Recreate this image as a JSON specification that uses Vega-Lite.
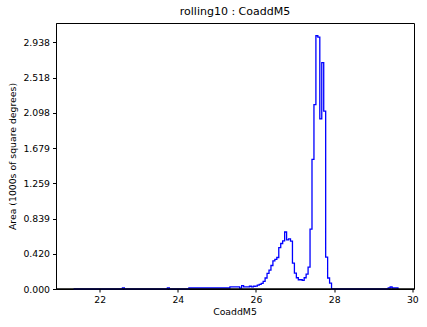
{
  "$schema": "https://vega.github.io/schema/vega-lite/v6.json",
  "autosize": {"type": "none"},
  "width": 358,
  "height": 266,
  "padding": {"left": 56, "top": 23, "right": 13, "bottom": 38},
  "background": "white",
  "view": {"stroke": "black", "strokeWidth": 1},
  "title": {"text": "rolling10 : CoaddM5", "font": "DejaVu Sans", "fontSize": 11, "fontWeight": "normal", "color": "black", "offset": 6, "anchor": "middle"},
  "data": {"values": [
    {"x": 21.32, "a": 0}, {"x": 21.37, "a": 0}, {"x": 21.42, "a": 0}, {"x": 21.47, "a": 0}, {"x": 21.52, "a": 0},
    {"x": 21.57, "a": 0}, {"x": 21.62, "a": 0}, {"x": 21.67, "a": 0}, {"x": 21.72, "a": 0}, {"x": 21.77, "a": 0},
    {"x": 21.82, "a": 0}, {"x": 21.87, "a": 0}, {"x": 21.92, "a": 0}, {"x": 21.97, "a": 0}, {"x": 22.02, "a": 0},
    {"x": 22.07, "a": 0}, {"x": 22.12, "a": 0}, {"x": 22.17, "a": 0}, {"x": 22.22, "a": 0}, {"x": 22.27, "a": 0},
    {"x": 22.32, "a": 0}, {"x": 22.37, "a": 0}, {"x": 22.42, "a": 0}, {"x": 22.47, "a": 0}, {"x": 22.52, "a": 0},
    {"x": 22.57, "a": 0.012},
    {"x": 22.62, "a": 0}, {"x": 22.67, "a": 0}, {"x": 22.72, "a": 0}, {"x": 22.77, "a": 0}, {"x": 22.82, "a": 0},
    {"x": 22.87, "a": 0}, {"x": 22.92, "a": 0}, {"x": 22.97, "a": 0}, {"x": 23.02, "a": 0}, {"x": 23.07, "a": 0},
    {"x": 23.12, "a": 0}, {"x": 23.17, "a": 0}, {"x": 23.22, "a": 0}, {"x": 23.27, "a": 0}, {"x": 23.32, "a": 0},
    {"x": 23.37, "a": 0}, {"x": 23.42, "a": 0}, {"x": 23.47, "a": 0}, {"x": 23.52, "a": 0}, {"x": 23.57, "a": 0},
    {"x": 23.62, "a": 0}, {"x": 23.67, "a": 0},
    {"x": 23.72, "a": 0.012},
    {"x": 23.77, "a": 0}, {"x": 23.82, "a": 0}, {"x": 23.87, "a": 0}, {"x": 23.92, "a": 0}, {"x": 23.97, "a": 0},
    {"x": 24.02, "a": 0}, {"x": 24.07, "a": 0}, {"x": 24.12, "a": 0}, {"x": 24.17, "a": 0}, {"x": 24.22, "a": 0},
    {"x": 24.27, "a": 0.012}, {"x": 24.32, "a": 0.012}, {"x": 24.37, "a": 0.012}, {"x": 24.42, "a": 0.012}, {"x": 24.47, "a": 0.012},
    {"x": 24.52, "a": 0.012}, {"x": 24.57, "a": 0.012}, {"x": 24.62, "a": 0.012}, {"x": 24.67, "a": 0.012}, {"x": 24.72, "a": 0.012},
    {"x": 24.77, "a": 0.012}, {"x": 24.82, "a": 0.012}, {"x": 24.87, "a": 0.012}, {"x": 24.92, "a": 0.012}, {"x": 24.97, "a": 0.012},
    {"x": 25.02, "a": 0.012}, {"x": 25.07, "a": 0.012}, {"x": 25.12, "a": 0.012}, {"x": 25.17, "a": 0.012}, {"x": 25.22, "a": 0.012},
    {"x": 25.27, "a": 0.012},
    {"x": 25.32, "a": 0.025}, {"x": 25.37, "a": 0.025}, {"x": 25.42, "a": 0.025}, {"x": 25.47, "a": 0.025}, {"x": 25.52, "a": 0.025},
    {"x": 25.57, "a": 0.010}, {"x": 25.62, "a": 0.040}, {"x": 25.67, "a": 0.025}, {"x": 25.72, "a": 0.025}, {"x": 25.77, "a": 0.025},
    {"x": 25.82, "a": 0.033}, {"x": 25.87, "a": 0.025}, {"x": 25.92, "a": 0.033}, {"x": 25.97, "a": 0.035}, {"x": 26.02, "a": 0.045},
    {"x": 26.07, "a": 0.055}, {"x": 26.12, "a": 0.067}, {"x": 26.17, "a": 0.090}, {"x": 26.22, "a": 0.131}, {"x": 26.27, "a": 0.185},
    {"x": 26.32, "a": 0.226}, {"x": 26.37, "a": 0.280}, {"x": 26.42, "a": 0.336}, {"x": 26.47, "a": 0.352}, {"x": 26.52, "a": 0.375},
    {"x": 26.57, "a": 0.494}, {"x": 26.62, "a": 0.542}, {"x": 26.67, "a": 0.574}, {"x": 26.72, "a": 0.679}, {"x": 26.77, "a": 0.586},
    {"x": 26.82, "a": 0.597}, {"x": 26.87, "a": 0.570}, {"x": 26.92, "a": 0.309}, {"x": 26.97, "a": 0.190}, {"x": 27.02, "a": 0.134},
    {"x": 27.07, "a": 0.110}, {"x": 27.12, "a": 0.110}, {"x": 27.17, "a": 0.102}, {"x": 27.22, "a": 0.134}, {"x": 27.27, "a": 0.178},
    {"x": 27.32, "a": 0.261}, {"x": 27.37, "a": 0.713}, {"x": 27.42, "a": 1.544}, {"x": 27.47, "a": 2.197}, {"x": 27.52, "a": 3.017},
    {"x": 27.57, "a": 3.000}, {"x": 27.62, "a": 2.026}, {"x": 27.67, "a": 2.696}, {"x": 27.72, "a": 2.118}, {"x": 27.77, "a": 0.380},
    {"x": 27.82, "a": 0.131}, {"x": 27.87, "a": 0.071},
    {"x": 27.92, "a": 0}, {"x": 27.97, "a": 0}, {"x": 28.02, "a": 0}, {"x": 28.07, "a": 0}, {"x": 28.12, "a": 0},
    {"x": 28.17, "a": 0}, {"x": 28.22, "a": 0}, {"x": 28.27, "a": 0}, {"x": 28.32, "a": 0}, {"x": 28.37, "a": 0},
    {"x": 28.42, "a": 0}, {"x": 28.47, "a": 0}, {"x": 28.52, "a": 0}, {"x": 28.57, "a": 0}, {"x": 28.62, "a": 0},
    {"x": 28.67, "a": 0}, {"x": 28.72, "a": 0}, {"x": 28.77, "a": 0}, {"x": 28.82, "a": 0}, {"x": 28.87, "a": 0},
    {"x": 28.92, "a": 0}, {"x": 28.97, "a": 0}, {"x": 29.02, "a": 0}, {"x": 29.07, "a": 0}, {"x": 29.12, "a": 0},
    {"x": 29.17, "a": 0}, {"x": 29.22, "a": 0}, {"x": 29.27, "a": 0}, {"x": 29.32, "a": 0},
    {"x": 29.37, "a": 0.012}, {"x": 29.42, "a": 0.024}, {"x": 29.47, "a": 0.012}, {"x": 29.52, "a": 0.012}, {"x": 29.57, "a": 0.012},
    {"x": 29.62, "a": 0}
  ]},
  "mark": {"type": "line", "interpolate": "step-after", "color": "#0000ff", "strokeWidth": 1.3},
  "encoding": {
    "x": {
      "field": "x", "type": "quantitative",
      "scale": {"domain": [20.87, 30.03], "nice": false, "zero": false},
      "axis": {
        "title": "CoaddM5", "values": [22, 24, 26, 28, 30], "format": "d",
        "grid": false, "zindex": 1, "translate": 0,
        "domainColor": "black", "domainWidth": 1.5, "tickColor": "black", "tickSize": 3.5, "tickWidth": 1,
        "labelColor": "black", "labelFont": "DejaVu Sans", "labelFontSize": 9.3, "labelPadding": 3,
        "titleColor": "black", "titleFont": "DejaVu Sans", "titleFontSize": 9.3, "titleFontWeight": "normal", "titlePadding": 3
      }
    },
    "y": {
      "field": "a", "type": "quantitative",
      "scale": {"domain": [0, 3.169], "nice": false},
      "axis": {
        "title": "Area (1000s of square degrees)",
        "values": [0, 0.41965, 0.8393, 1.25895, 1.6786, 2.09825, 2.5179, 2.93755], "format": ".3f",
        "grid": false, "zindex": 1,
        "domainColor": "black", "domainWidth": 1, "tickColor": "black", "tickSize": 3.5, "tickWidth": 1,
        "labelColor": "black", "labelFont": "DejaVu Sans", "labelFontSize": 9.3, "labelPadding": 3,
        "titleColor": "black", "titleFont": "DejaVu Sans", "titleFontSize": 9.3, "titleFontWeight": "normal", "titlePadding": 5
      }
    }
  }
}
